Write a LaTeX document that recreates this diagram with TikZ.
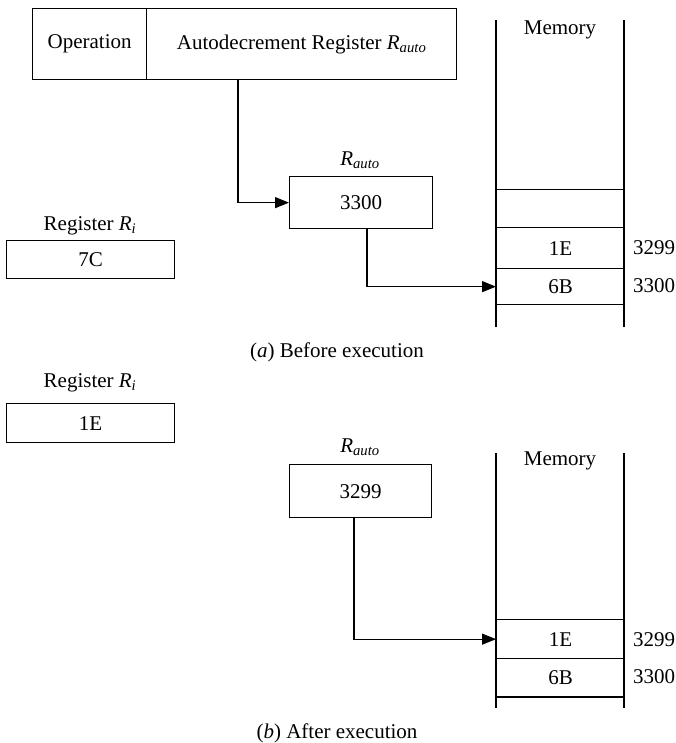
\documentclass[tikz,border=0pt]{standalone}
\usepackage{fontspec}
\setmainfont{Liberation Serif}
\usetikzlibrary{arrows.meta}
\newcommand{\Rsub}[1]{\textit{R}\textsubscript{\textit{#1}}}
\begin{document}
\begin{tikzpicture}[x=1pt,y=-1pt,line width=1.3pt,
  font=\fontsize{21}{25}\selectfont,
  box/.style={draw,rectangle,inner sep=0pt,anchor=north west},
  lbl/.style={inner sep=0pt},
  ptr/.style={-{Triangle[length=14pt,width=11pt]}}]
\useasboundingbox (0,0) rectangle (675,743);

% ---------- (a) before execution ----------
% instruction word
\node[box,minimum width=114pt,minimum height=71pt] (op) at (32,8) {Operation};
\node[box,minimum width=310pt,minimum height=71pt] (field) at (146,8) {Autodecrement Register \Rsub{auto}};

% autodecrement register
\node[lbl] (rautoAlbl) at (360,160) {\Rsub{auto}};
\node[box,minimum width=143pt,minimum height=52pt] (rautoA) at (289,176) {3300};

% register Ri
\node[lbl] (riAlbl) at (90,226) {Register \Rsub{i}};
\node[box,minimum width=168pt,minimum height=38pt] (riA) at (6,240) {7C};

% memory column
\draw (496,20) -- (496,327) (624,20) -- (624,327);
\node[lbl] (memAlbl) at (560,30) {Memory};
\node[box,minimum width=128pt,minimum height=38pt] (memAe) at (496,189) {};
\node[box,minimum width=128pt,minimum height=41pt] (memA1E) at (496,227) {1E};
\node[box,minimum width=128pt,minimum height=36pt] (memA6B) at (496,268) {6B};
\node[lbl] (adrA1) at (654,248) {3299};
\node[lbl] (adrA2) at (654,286) {3300};

% pointers
\coordinate (tapA) at (238,79);
\draw[ptr] (tapA) |- (rautoA.west);
\coordinate (tapB) at (367,228);
\draw[ptr] (tapB) |- (memA6B.west);

\node[lbl] (capA) at (337,352) {(\textit{a}) Before execution};

% ---------- (b) after execution ----------
\node[lbl] (riBlbl) at (90,383) {Register \Rsub{i}};
\node[box,minimum width=168pt,minimum height=39pt] (riB) at (6,403) {1E};

\node[lbl] (rautoBlbl) at (360,447) {\Rsub{auto}};
\node[box,minimum width=142pt,minimum height=53pt] (rautoB) at (289,464) {3299};

\draw (496,453) -- (496,708) (624,453) -- (624,708);
\node[lbl] (memBlbl) at (560,461) {Memory};
\node[box,minimum width=128pt,minimum height=39pt] (memB1E) at (496,619) {1E};
\node[box,minimum width=128pt,minimum height=38pt] (memB6B) at (496,658) {6B};
\draw[line width=1.9pt] (memB6B.south west) -- (memB6B.south east);
\node[lbl] (adrB1) at (654,640) {3299};
\node[lbl] (adrB2) at (654,677) {3300};

\coordinate (tapC) at (354,517);
\draw[ptr] (tapC) |- (memB1E.west);

\node[lbl] (capB) at (337,733) {(\textit{b}) After execution};
\end{tikzpicture}
\end{document}
